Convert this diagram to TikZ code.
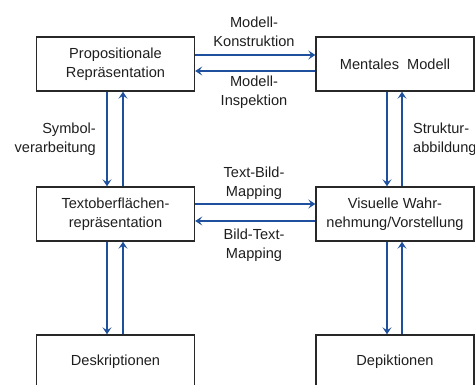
\documentclass[tikz,border=0pt]{standalone}
\usepackage{fontspec}
\setmainfont{Liberation Sans}
\usetikzlibrary{arrows.meta}
\definecolor{arrblue}{RGB}{30,80,158}
\definecolor{boxline}{RGB}{40,40,40}
\definecolor{txt}{RGB}{30,30,30}
\begin{document}
\begin{tikzpicture}[x=1pt,y=-1pt,
  every node/.style={font=\fontsize{14.6}{18.5}\selectfont,text=txt},
  box/.style={draw=boxline,line width=1.4pt,minimum width=158pt,minimum height=54pt,align=center,inner sep=0pt},
  flow/.style={draw=arrblue,line width=1.8pt,-{Stealth[length=7pt,width=9pt,inset=3pt]}},
  lbl/.style={align=center,inner sep=0pt}]
\useasboundingbox (0,0) rectangle (475,385);
\node[box] (P) at (115.5,64) {Propositionale\\Repräsentation};
\node[box] (M) at (395,64) {Mentales\hspace{0.55em}Modell};
\node[box] (T) at (115.5,214) {Textoberflächen-\\repräsentation};
\node[box] (V) at (395,214) {Visuelle Wahr-\\nehmung/Vorstellung};
\node[box] (D) at (115.5,362) {Deskriptionen};
\node[box] (E) at (395,362) {Depiktionen};
% horizontal
\draw[flow] ([yshift=9pt]P.east) -- ([yshift=9pt]M.west);
\draw[flow] ([yshift=-7pt]M.west) -- ([yshift=-7pt]P.east);
\draw[flow] ([yshift=10pt]T.east) -- ([yshift=10pt]V.west);
\draw[flow] ([yshift=-7pt]V.west) -- ([yshift=-7pt]T.east);
% vertical
\draw[flow] ([xshift=-8.5pt]P.south) -- ([xshift=-8.5pt]T.north);
\draw[flow] ([xshift=7.5pt]T.north) -- ([xshift=7.5pt]P.south);
\draw[flow] ([xshift=-8.5pt]T.south) -- ([xshift=-8.5pt]D.north);
\draw[flow] ([xshift=7.5pt]D.north) -- ([xshift=7.5pt]T.south);
\draw[flow] ([xshift=-8pt]M.south) -- ([xshift=-8pt]V.north);
\draw[flow] ([xshift=7pt]V.north) -- ([xshift=7pt]M.south);
\draw[flow] ([xshift=-8pt]V.south) -- ([xshift=-8pt]E.north);
\draw[flow] ([xshift=7pt]E.north) -- ([xshift=7pt]V.south);
% labels
\node[lbl] (l1) at (254,32) {Modell-\\Konstruktion};
\node[lbl] (l2) at (254,92) {Modell-\\Inspektion};
\node[lbl] (l3) at (254,183) {Text-Bild-\\Mapping};
\node[lbl] (l4) at (254,245) {Bild-Text-\\Mapping};
\node[lbl,align=right,anchor=east] (l5) at (96,139) {Symbol-\\verarbeitung};
\node[lbl,align=left,anchor=west] (l6) at (413,139) {Struktur-\\abbildung};
\end{tikzpicture}
\end{document}
